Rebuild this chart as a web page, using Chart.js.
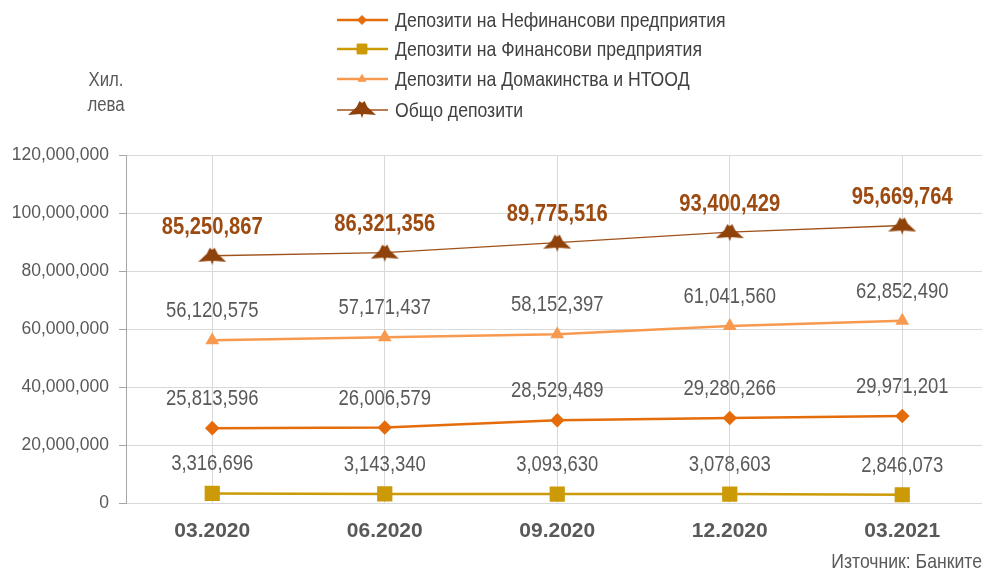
<!DOCTYPE html>
<html>
<head>
<meta charset="utf-8">
<script src="https://cdn.jsdelivr.net/npm/chart.js@4.4.1/dist/chart.umd.min.js"></script>
<style>
html,body{margin:0;padding:0;background:#fff;overflow:hidden;width:982px;height:571px;}
#wrap{position:absolute;left:0;top:0;}
</style>
</head>
<body>
<div id="wrap"><canvas id="c" width="1000" height="571"></canvas></div>
<script>
const categories = ['03.2020', '06.2020', '09.2020', '12.2020', '03.2021'];
const nonFinancial = [25813596, 26006579, 28529489, 29280266, 29971201];
const financial = [3316696, 3143340, 3093630, 3078603, 2846073];
const households = [56120575, 57171437, 58152397, 61041560, 62852490];
const total = [85250867, 86321356, 89775516, 93400429, 95669764];
const seriesNames = ['Депозити на Нефинансови предприятия', 'Депозити на Финансови предприятия', 'Депозити на Домакинства и НТООД', 'Общо депозити'];
const yTicks = [0, 20000000, 40000000, 60000000, 80000000, 100000000, 120000000];
const unitLabel = ['Хил.', 'лева'];
const sourceLabel = 'Източник: Банките';

const FONT = "'Liberation Sans',Arial,sans-serif";
const fmt = v => v.toLocaleString('en-US');
const SQ = 0.84; // horizontal condensing for narrow look

function narrowText(ctx, text, x, y, font, color, align) {
  ctx.save();
  ctx.font = font;
  ctx.fillStyle = color;
  ctx.textAlign = align;
  ctx.textBaseline = 'middle';
  ctx.translate(x, y);
  ctx.scale(SQ, 1);
  ctx.fillText(text, 0, 0);
  ctx.restore();
}

// custom marker for total series
function makeTotalMarker(color) {
  const c = document.createElement('canvas');
  c.width = 28; c.height = 18;
  const g = c.getContext('2d');
  g.fillStyle = color;
  g.beginPath();
  g.moveTo(11.5, 1);
  g.lineTo(14, 3);
  g.lineTo(16.5, 1);
  g.lineTo(19.5, 7);
  g.lineTo(28, 15);
  g.lineTo(15.5, 14);
  g.lineTo(14, 18);
  g.lineTo(12.5, 14);
  g.lineTo(0, 15);
  g.lineTo(8.5, 7);
  g.closePath();
  g.fill();
  return c;
}
const totalMarker = makeTotalMarker('#8f430b');

const colors = ['#e46c0a', '#cc9a06', '#f79a50', '#a0521c'];

const labelPlugin = {
  id: 'labels',
  afterDatasetsDraw(chart) {
    const ctx = chart.ctx;
    chart.data.datasets.forEach((ds, i) => {
      const meta = chart.getDatasetMeta(i);
      meta.data.forEach((pt, j) => {
        if (i === 3) {
          narrowText(ctx, fmt(ds.data[j]), pt.x, pt.y - 28, 'bold 24px ' + FONT, '#9c4a10', 'center');
        } else {
          narrowText(ctx, fmt(ds.data[j]), pt.x, pt.y - 29, '22px ' + FONT, '#595959', 'center');
        }
      });
    });
  },
  afterDraw(chart) {
    const ctx = chart.ctx;
    ctx.save();
    const rows = [20, 49, 79, 110];
    chart.data.datasets.forEach((ds, i) => {
      const y = rows[i];
      ctx.strokeStyle = ds.borderColor;
      ctx.lineWidth = i === 3 ? 1.5 : 2.5;
      ctx.beginPath();
      ctx.moveTo(337, y); ctx.lineTo(388, y); ctx.stroke();
      if (i === 3) {
        ctx.drawImage(totalMarker, 362 - 14, y - 10);
      } else {
        ctx.fillStyle = ds.pointBackgroundColor;
        ctx.strokeStyle = ds.pointBorderColor;
        ctx.lineWidth = 1;
        Chart.helpers.drawPoint(ctx, {pointStyle: ds.pointStyle, radius: i === 1 ? 7 : 4.5, borderWidth: 1, rotation: 0}, 362, y);
      }
      narrowText(ctx, seriesNames[i], 395, y + 1, '21px ' + FONT, '#404040', 'left');
    });
    narrowText(ctx, unitLabel[0], 106, 80, '20px ' + FONT, '#595959', 'center');
    narrowText(ctx, unitLabel[1], 106, 105, '20px ' + FONT, '#595959', 'center');
    narrowText(ctx, sourceLabel, 982, 562, '21px ' + FONT, '#595959', 'right');
    ctx.restore();
  }
};

new Chart(document.getElementById('c'), {
  type: 'line',
  data: {
    labels: categories,
    datasets: [
      {label: seriesNames[0], data: nonFinancial, borderColor: colors[0], backgroundColor: colors[0], pointBackgroundColor: colors[0], pointBorderColor: colors[0], borderWidth: 2.5, pointStyle: 'rectRot', pointRadius: 5.5, pointHoverRadius: 5.5},
      {label: seriesNames[1], data: financial, borderColor: colors[1], backgroundColor: colors[1], pointBackgroundColor: colors[1], pointBorderColor: colors[1], borderWidth: 2.5, pointStyle: 'rect', pointRadius: 9, pointHoverRadius: 9},
      {label: seriesNames[2], data: households, borderColor: colors[2], backgroundColor: colors[2], pointBackgroundColor: colors[2], pointBorderColor: colors[2], borderWidth: 2.5, pointStyle: 'triangle', pointRadius: 5.5, pointHoverRadius: 5.5},
      {label: seriesNames[3], data: total, borderColor: colors[3], backgroundColor: colors[3], pointBackgroundColor: colors[3], pointBorderColor: colors[3], borderWidth: 1.4, pointStyle: totalMarker, pointRadius: 10}
    ]
  },
  options: {
    responsive: false,
    animation: false,
    events: [],
    layout: {padding: {top: 155, right: 4, left: 0, bottom: 0}},
    plugins: {legend: {display: false}, tooltip: {enabled: false}},
    scales: {
      x: {
        offset: true,
        grid: {color: '#d9d9d9', offset: false, drawTicks: false, lineWidth: 1},
        border: {color: '#d9d9d9'},
        ticks: {font: {family: FONT, size: 21, weight: 'bold'}, color: '#595959', padding: 16},
        afterFit: s => { s.height = 68; }
      },
      y: {
        min: 0, max: 120000000,
        afterBuildTicks: s => { s.ticks = yTicks.map(v => ({value: v})); },
        grid: {color: '#d9d9d9', tickLength: 7, tickColor: '#a6a6a6'},
        border: {color: '#a6a6a6'},
        ticks: {font: {family: FONT, size: 17.5}, color: '#595959', padding: 10, callback: v => fmt(v)},
        afterFit: s => { s.width = 126; }
      }
    }
  },
  plugins: [labelPlugin]
});
</script>
</body>
</html>
